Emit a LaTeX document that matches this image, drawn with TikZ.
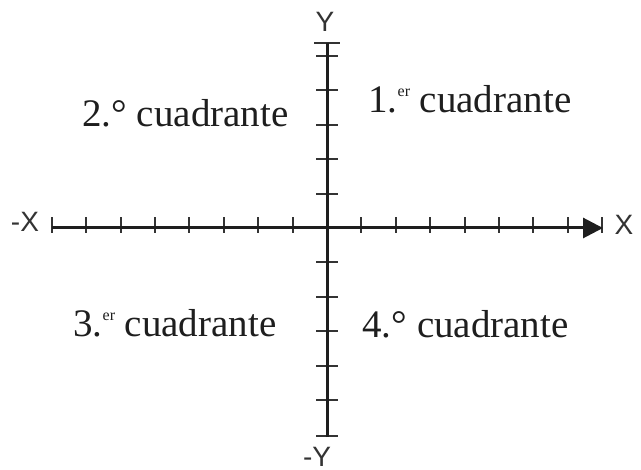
\documentclass[tikz,border=0pt]{standalone}
\usepackage{fontspec}
\setmainfont{Liberation Serif}
\newfontfamily\axisfont{Liberation Sans}
\usepackage{tikz}
\usetikzlibrary{arrows.meta,positioning}
\definecolor{ink}{HTML}{1E1E1E}
\definecolor{muted}{HTML}{333333}
\newcommand{\ordsup}[1]{\raisebox{0.42em}{\fontsize{8}{8}\selectfont #1}}
\tikzset{
  axisline/.style={ink,line width=1.5pt},
  tick/.style={muted,line width=1pt},
  axislabel/.style={font=\axisfont\fontsize{14}{16}\selectfont,text=muted,inner sep=0pt},
  quad/.style={font=\fontsize{19.5}{22}\selectfont,text=ink,anchor=base west,inner sep=0pt}
}

\begin{document}
\begin{tikzpicture}[x=0.5pt,y=0.5pt]
  \useasboundingbox (-327,-242) rectangle (314,228);
  \coordinate (O) at (0,0);
  \coordinate (xl) at (-275,0); \coordinate (xr) at (276,0);
  \coordinate (yt) at (0,185); \coordinate (yb) at (0,-209);
  % ticks
  \foreach \k in {-8,...,-1,1,2,...,8} \draw[tick] (\k*34.4,-5)--(\k*34.4,11);
  \foreach \k in {1,...,5} \draw[tick] (-11,\k*34.4)--(11,\k*34.4);
  \foreach \k in {1,...,5} \draw[tick] (-11,-\k*34.4)--(11,-\k*34.4);
  \draw[tick] (-13,185)--(13,185); \draw[tick] (-11,-208)--(11,-208);
  % axes
  \draw[axisline,-{Triangle[length=10pt,width=10pt]}] (xl)--(xr);
  \draw[axisline] (yb)--(yt);
  \node[axislabel] (lx) at (297,3) {X};
  \node[axislabel] (lmx) at (-302,6) {-X};
  \node[axislabel] (ly) at (-2,206) {Y};
  \node[axislabel] (lmy) at (-10,-229) {-Y};
  % quadrants
  \node[quad] (q1) at (41,115) {1.\ordsup{er} cuadrante};
  \node[quad] (q2) at (-245,101) {2.° cuadrante};
  \node[quad] (q3) at (-254,-109) {3.\ordsup{er} cuadrante};
  \node[quad] (q4) at (35,-110) {4.° cuadrante};
\end{tikzpicture}
\end{document}
